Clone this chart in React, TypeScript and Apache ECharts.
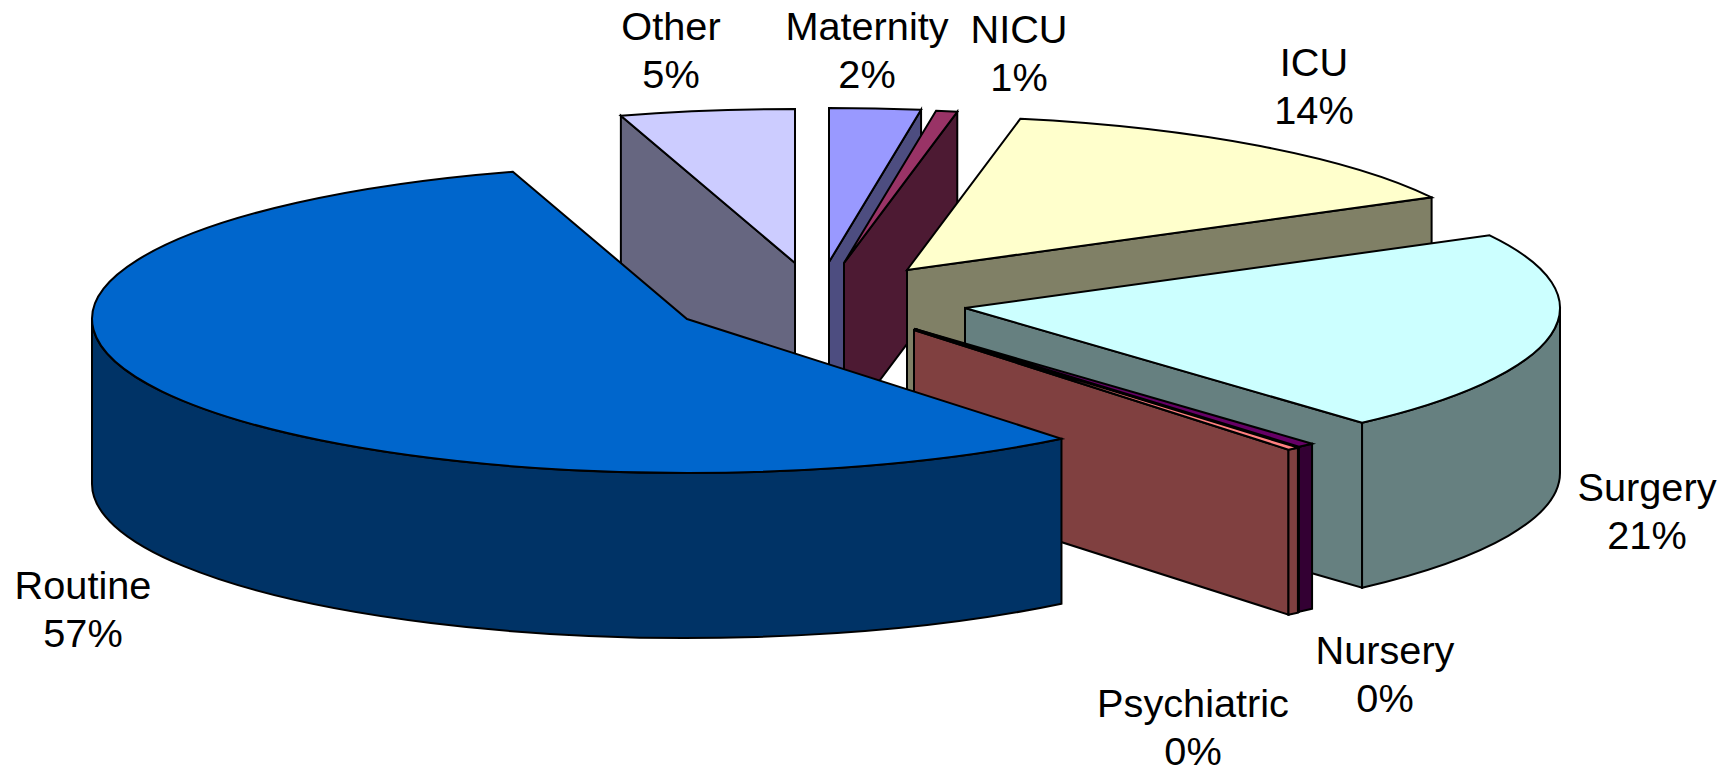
import React, { useEffect, useRef } from "react";
import * as echarts from "echarts";

// Clockwise from 12 o'clock, as the pie is laid out.
const categories = ["Maternity", "NICU", "ICU", "Surgery", "Nursery", "Psychiatric", "Routine", "Other"];
const shares = [2.49, 0.58, 14.23, 21.34, 0.47, 0.33, 56.5, 4.76];

const topColors = ["#9999FF", "#993366", "#FFFFCC", "#CCFFFF", "#660066", "#FF8080", "#0066CC", "#CCCCFF"];
const sideColors = ["#4D4D80", "#4D1A33", "#808066", "#668080", "#330033", "#804040", "#003366", "#666680"];

// Layout (exploded apex of each slice, and the centre of each label)
const apexes = [[829, 262], [844, 263], [907, 270], [965, 308], [915, 329], [914, 330], [687, 319], [795, 263]];
const labelAt = [[867, 50], [1019, 53], [1314, 86], [1647, 511], [1385, 674], [1193, 727], [83, 609], [671, 50]];
const paintOrder = [7, 0, 1, 2, 3, 4, 5, 6];
const RX = 595;
const RY = 154;
const DEPTH = 165;
const LINE_GAP = 48;

const total = shares.reduce((s, v) => s + v, 0);
const startDeg: number[] = [];
shares.reduce((acc, v, i) => {
  startDeg[i] = (acc / total) * 360;
  return acc + v;
}, 0);

function renderItem(_params: any, api: any) {
  const i = api.value(0) as number;
  const value = api.value(1) as number;
  const a = startDeg[i];
  const b = a + (value / total) * 360;
  const [cx, cy] = apexes[i];
  const pt = (deg: number, dz = 0) => {
    const r = (deg * Math.PI) / 180;
    return [cx + RX * Math.sin(r), cy - RY * Math.cos(r) + dz];
  };
  const f = (p: number[]) => `${p[0].toFixed(2)} ${p[1].toFixed(2)}`;
  const stroke = { stroke: "#000", lineWidth: 2, lineJoin: "miter" as const };
  const children: any[] = [];
  const face = (pathData: string, fill: string) =>
    children.push({ type: "path", shape: { pathData }, style: { fill, ...stroke } });

  const apex = [cx, cy];
  const apexLow = [cx, cy + DEPTH];
  const cut = (deg: number) =>
    `M${f(apex)} L${f(pt(deg))} L${f(pt(deg, DEPTH))} L${f(apexLow)} Z`;

  if (Math.sin((a * Math.PI) / 180) < -1e-6) face(cut(a), sideColors[i]);
  if (Math.sin((b * Math.PI) / 180) > 1e-6) face(cut(b), sideColors[i]);

  const wa = Math.max(a, 90);
  const wb = Math.min(b, 270);
  if (wb > wa) {
    const large = wb - wa > 180 ? 1 : 0;
    face(
      `M${f(pt(wa))} A${RX} ${RY} 0 ${large} 1 ${f(pt(wb))} L${f(pt(wb, DEPTH))} A${RX} ${RY} 0 ${large} 0 ${f(pt(wa, DEPTH))} Z`,
      sideColors[i]
    );
  }
  const large = b - a > 180 ? 1 : 0;
  face(`M${f(apex)} L${f(pt(a))} A${RX} ${RY} 0 ${large} 1 ${f(pt(b))} Z`, topColors[i]);

  [categories[i], `${Math.round(value)}%`].forEach((line, n) => {
    children.push({
      type: "text",
      z2: 100,
      style: {
        text: line,
        x: labelAt[i][0],
        y: labelAt[i][1] + (n === 0 ? -LINE_GAP / 2 : LINE_GAP / 2),
        align: "center",
        verticalAlign: "middle",
        fontFamily: "Liberation Sans",
        fontSize: 39.7,
        lineHeight: 38,
        fill: "#000",
      },
    });
  });
  return { type: "group", children };
}

export default function App() {
  const ref = useRef<HTMLDivElement>(null);
  useEffect(() => {
    const chart = echarts.init(ref.current!, undefined, { renderer: "svg", width: 1731, height: 774 });
    chart.setOption({
      animation: false,
      backgroundColor: "#fff",
      series: [
        {
          type: "custom",
          coordinateSystem: "none",
          renderItem,
          clip: false,
          silent: true,
          data: paintOrder.map((i) => ({ name: categories[i], value: [i, shares[i]] })),
        },
      ],
    });
    return () => chart.dispose();
  }, []);
  return <div ref={ref} style={{ position: "fixed", left: 0, top: 0, width: 1731, height: 774 }} />;
}
